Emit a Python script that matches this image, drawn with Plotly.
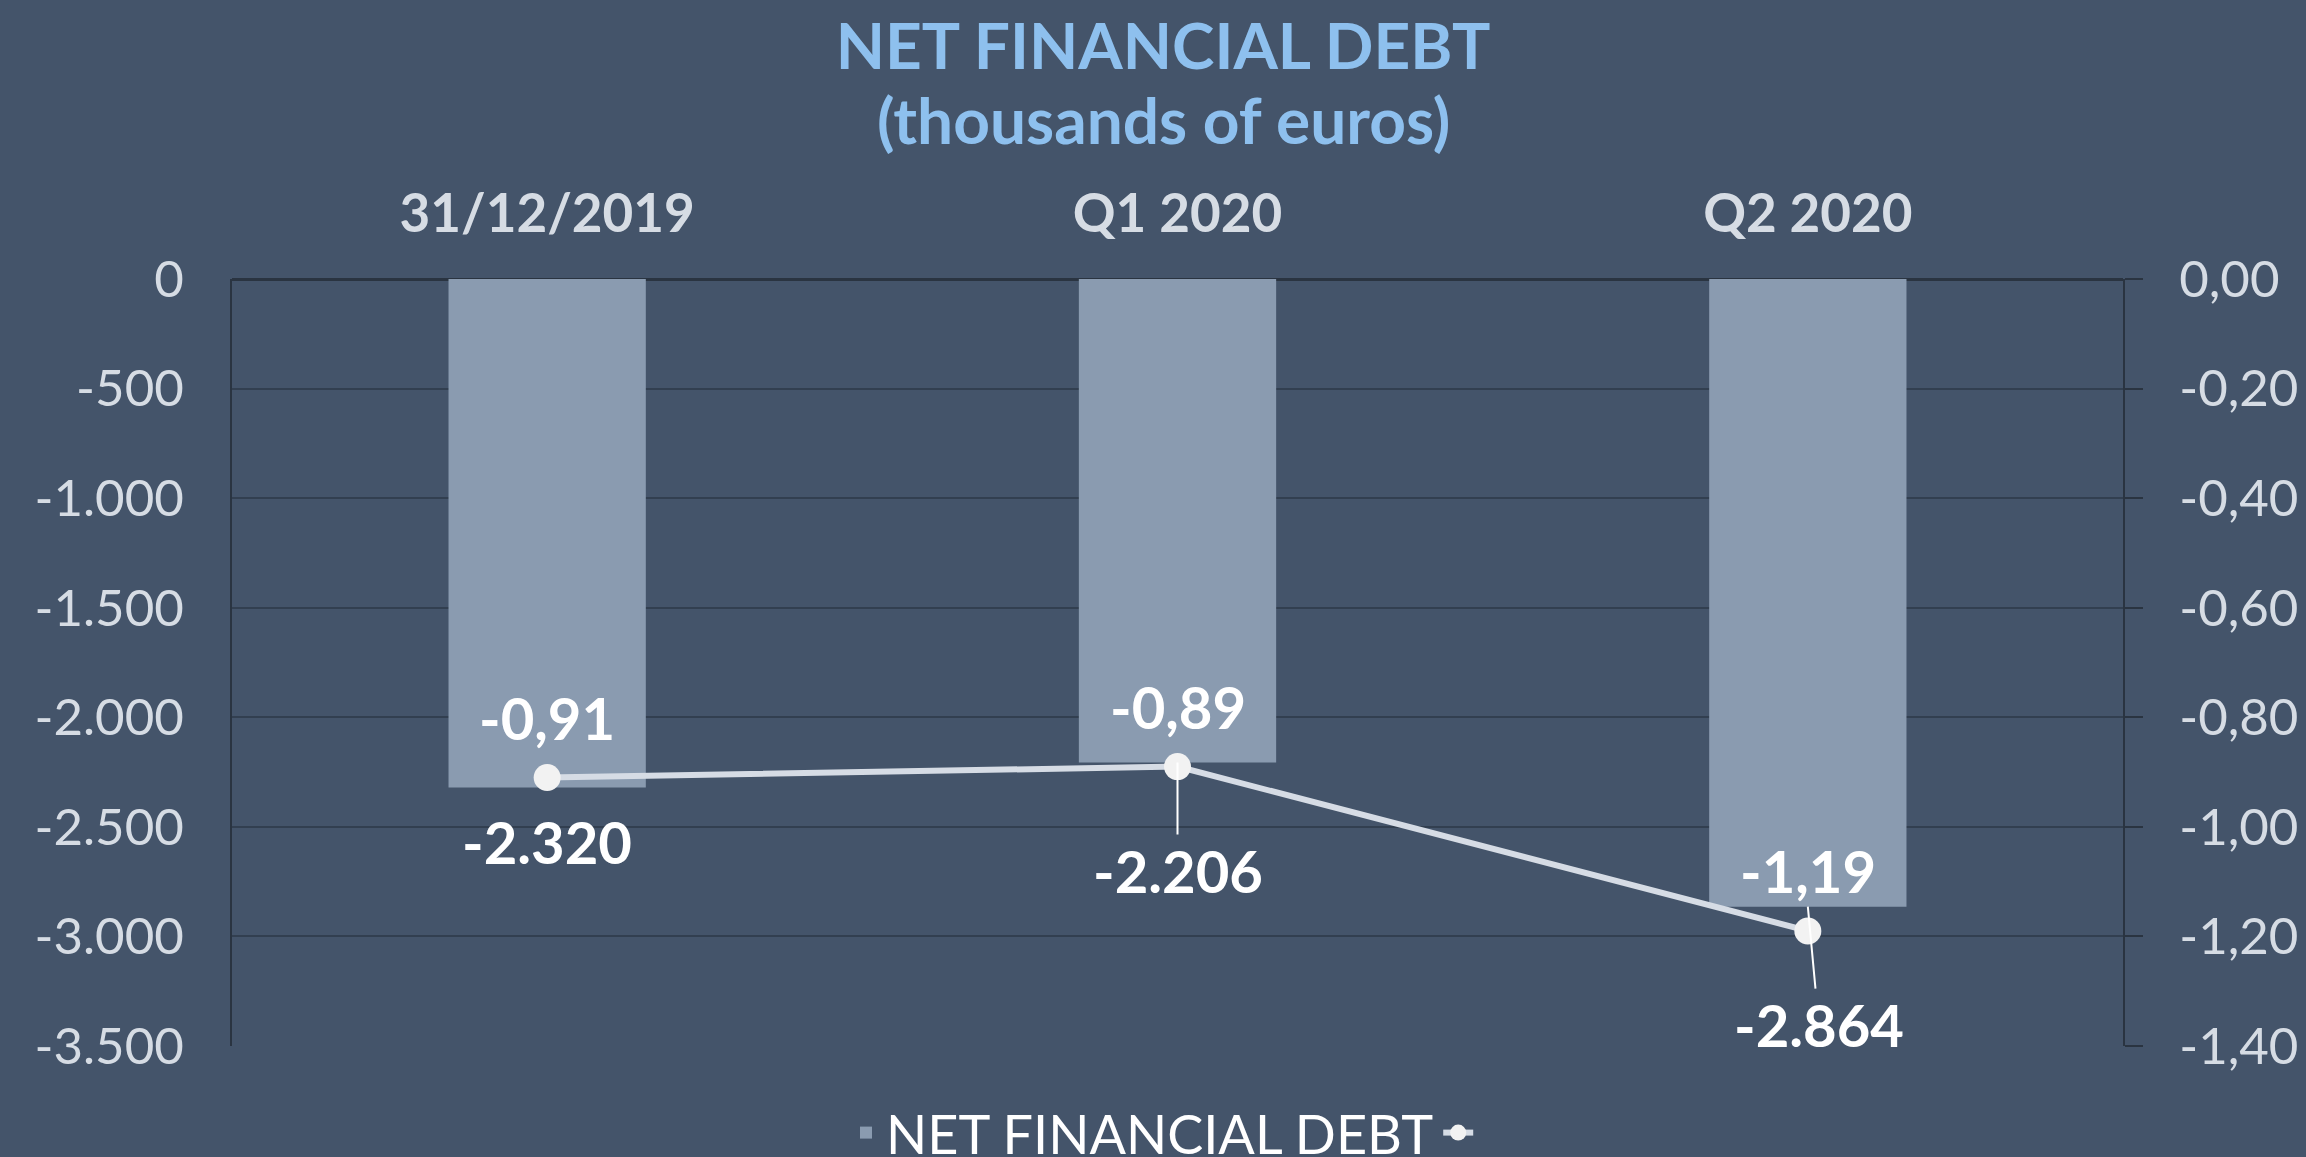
import plotly.graph_objects as go

# ---- data ----
categories = ["31/12/2019", "Q1 2020", "Q2 2020"]
net_debt = [-2320, -2206, -2864]          # thousands of euros (left axis)
ratio = [-0.91, -0.89, -1.19]              # right axis values
left_ticks = [0, -500, -1000, -1500, -2000, -2500, -3000, -3500]
left_tick_labels = ["0", "-500", "-1.000", "-1.500", "-2.000", "-2.500", "-3.000", "-3.500"]
right_ticks = [0, -0.2, -0.4, -0.6, -0.8, -1.0, -1.2, -1.4]
right_tick_labels = ["0,00", "-0,20", "-0,40", "-0,60", "-0,80", "-1,00", "-1,20", "-1,40"]

BG = "#44546A"
BAR = "#8A9BB0"
GRID = "#323F50"
TICK = "#D6DCE4"
TITLE = "#8EC0EE"
FONT = "Lato"

W, H = 2306, 1157
M_L, M_R, M_T, M_B = 232, 183, 279, 111

def fmt_thousands(v):
    return f"{v:,}".replace(",", ".")

def fmt_dec(v):
    return f"{v:.2f}".replace(".", ",")

fig = go.Figure()
fig.add_trace(go.Bar(
    x=categories, y=net_debt, name="NET FINANCIAL DEBT",
    marker=dict(color=BAR, line=dict(width=0)),
    yaxis="y",
))
fig.add_trace(go.Scatter(
    x=categories, y=ratio, name="", yaxis="y2",
    mode="lines+markers",
    line=dict(color="#D6DCE5", width=6),
    marker=dict(color="#F2F2F2", size=27),
))

annotations = []
label_font = dict(family=FONT, size=58, color="white")
# line labels above markers
for c, v in zip(categories, ratio):
    annotations.append(dict(x=c, y=v, xref="x", yref="y2", text=f"<b>{fmt_dec(v)}</b>",
                            showarrow=False, yshift=60, font=label_font))
# bar labels (with leader lines where moved)
bar_label_offsets = [(0, 0), (0, 108), (11, 118)]
for c, v, (ax, ay) in zip(categories, net_debt, bar_label_offsets):
    if ay == 0:
        annotations.append(dict(x=c, y=v, xref="x", yref="y", text=f"<b>{fmt_thousands(v)}</b>",
                                showarrow=False, yshift=-54, font=label_font))
    else:
        annotations.append(dict(x=c, y=v, xref="x", yref="y", text=f"<b>{fmt_thousands(v)}</b>",
                                showarrow=True, arrowhead=0, arrowwidth=2,
                                arrowcolor="white", ax=ax, ay=ay, standoff=0,
                                font=label_font))

# subtitle line (centre ~119 px from top)
plot_h = H - M_T - M_B
plot_w = W - M_L - M_R
title_x_paper = (1163 - M_L) / plot_w
annotations.append(dict(text="<b>(thousands of euros)</b>", xref="paper", yref="paper",
                        x=title_x_paper, y=(H - M_B - 119) / plot_h, yanchor="middle",
                        showarrow=False,
                        font=dict(family=FONT, size=64, color=TITLE)))

fig.update_layout(
    width=W, height=H,
    paper_bgcolor=BG, plot_bgcolor=BG,
    margin=dict(l=M_L, r=M_R, t=M_T, b=M_B, autoexpand=False),
    font=dict(family=FONT, color=TICK),
    title=dict(text="<b>NET FINANCIAL DEBT</b>",
               font=dict(family=FONT, size=64, color=TITLE),
               x=title_x_paper, xanchor="center", xref="paper",
               y=1 - 47 / H, yanchor="middle", yref="container"),
    bargap=0.687,
    showlegend=True,
    legend=dict(orientation="h", x=(1165 - M_L) / plot_w, xanchor="center", xref="paper",
                y=(H - M_B - 1133) / plot_h, yanchor="middle", yref="paper",
                font=dict(family=FONT, size=54, color="white"),
                bgcolor="rgba(0,0,0,0)"),
    xaxis=dict(side="top", showgrid=False, zeroline=False, showline=False,
               tickfont=dict(family=FONT, size=53, color=TICK),
               tickvals=categories, ticktext=[f"<b>{c}</b>" for c in categories],
               ticks="", ticklabelstandoff=35),
    yaxis=dict(range=[-3500, 0], tickvals=left_ticks, ticktext=left_tick_labels,
               showgrid=True, gridcolor=GRID, gridwidth=2,
               zeroline=True, zerolinecolor="#2A3441", zerolinewidth=3,
               showline=True, linecolor="#2A3441", linewidth=2,
               tickfont=dict(family=FONT, size=51, color=TICK),
               ticks="", ticklabelstandoff=36),
    yaxis2=dict(range=[-1.4, 0], tickvals=right_ticks, ticktext=right_tick_labels,
                overlaying="y", side="right", showgrid=False, zeroline=False,
                showline=True, linecolor="#2A3441", linewidth=2,
                ticks="outside", ticklen=18, tickcolor="#2A3441", tickwidth=2,
                tickfont=dict(family=FONT, size=51, color=TICK),
                ticklabelstandoff=26),
    annotations=annotations,
)

fig.write_html("out.html", config={"displayModeBar": False},
               post_script="document.body.style.margin='0';document.body.style.overflow='hidden';")
